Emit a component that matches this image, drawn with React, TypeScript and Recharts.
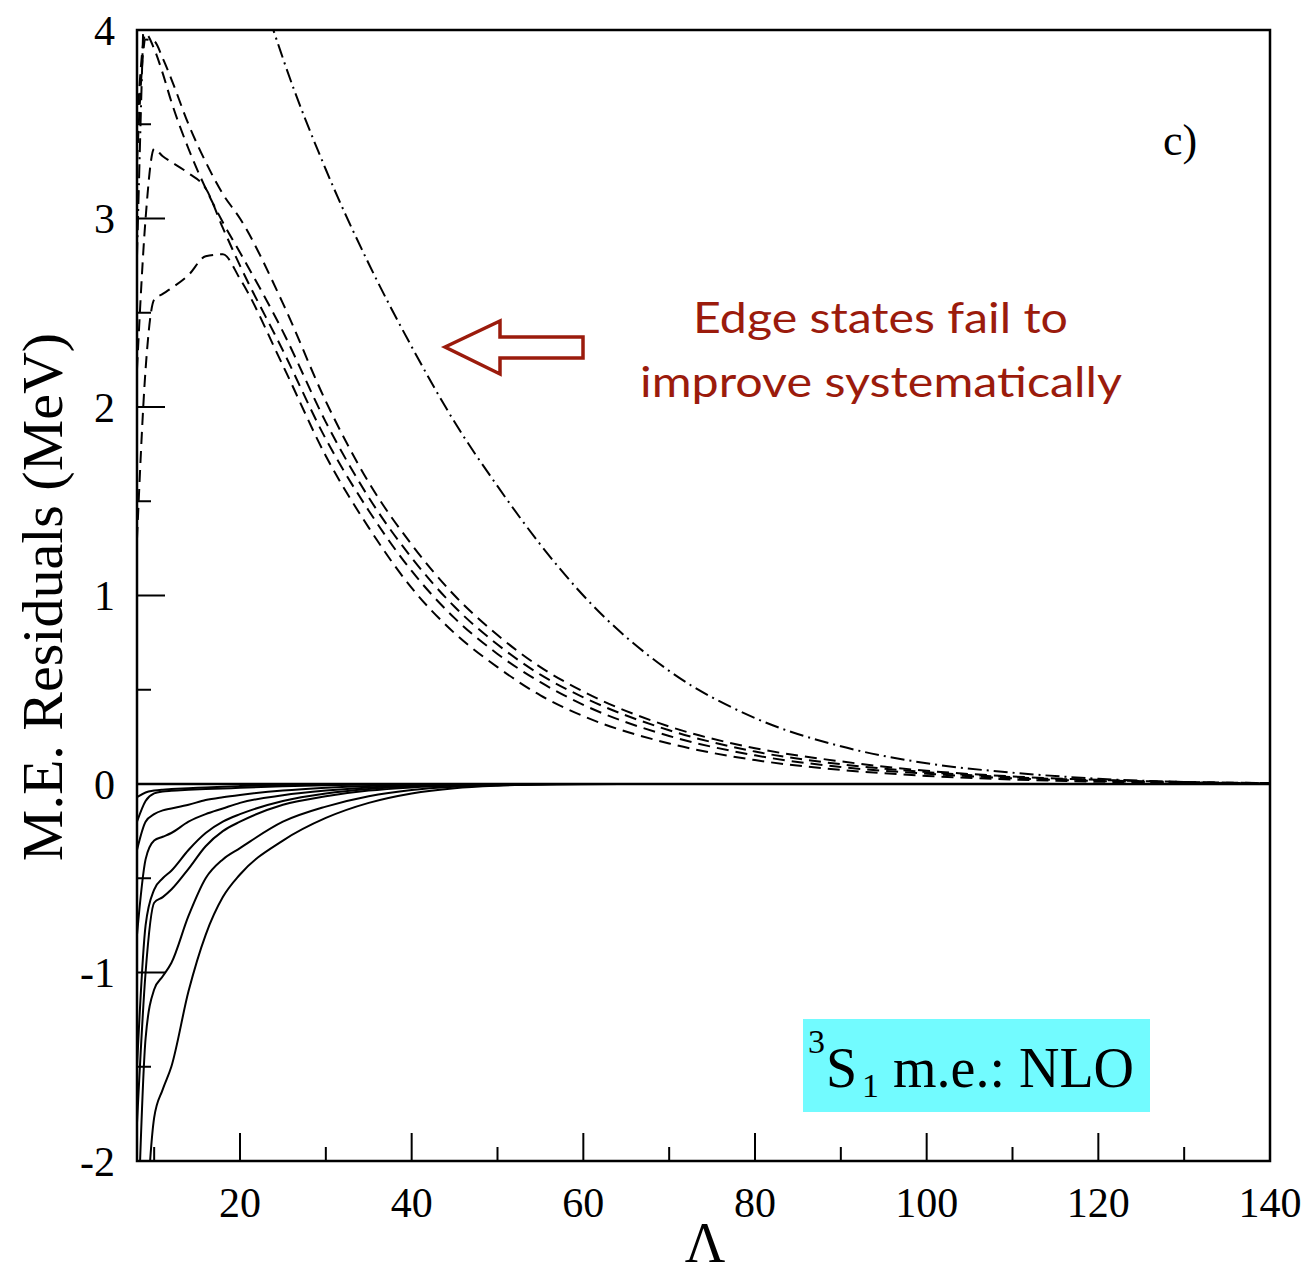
import { LineChart, Line, XAxis, YAxis, ReferenceLine, ReferenceArea } from "recharts";

const LAMBDA = [8, 9, 10, 11, 12, 14, 16, 18, 20, 25, 30, 35, 40, 45, 50, 55, 60, 70, 80, 90, 100, 110, 120, 130, 140];

// dashed residuals (edge states)
const DASH_1 = [3.5, 3.98, 3.9, 3.77, 3.62, 3.37, 3.16, 2.98, 2.82, 2.4, 1.92, 1.52, 1.2, 0.94, 0.74, 0.58, 0.46, 0.285, 0.172, 0.105, 0.063, 0.036, 0.02, 0.01, 0.005];
const DASH_2 = [3.3, 3.95, 3.94, 3.85, 3.74, 3.5, 3.3, 3.13, 3.0, 2.55, 2.03, 1.6, 1.27, 1.0, 0.79, 0.62, 0.49, 0.305, 0.19, 0.12, 0.07, 0.04, 0.022, 0.011, 0.005];
const DASH_3 = [2.2, 3.0, 3.37, 3.33, 3.3, 3.24, 3.16, 2.95, 2.75, 2.3, 1.83, 1.45, 1.13, 0.88, 0.69, 0.54, 0.42, 0.255, 0.152, 0.09, 0.055, 0.03, 0.016, 0.008, 0.004];
const DASH_4 = [1.3, 2.2, 2.57, 2.6, 2.63, 2.7, 2.8, 2.81, 2.68, 2.22, 1.74, 1.36, 1.04, 0.8, 0.62, 0.47, 0.36, 0.215, 0.127, 0.075, 0.043, 0.024, 0.012, 0.006, 0.003];
const DASH_DOT = [2.8, 4.4, 5.5, 5.9, 6.0, 5.8, 5.4, 5.0, 4.6, 3.85, 3.26, 2.76, 2.32, 1.92, 1.58, 1.27, 1.0, 0.6, 0.35, 0.2, 0.11, 0.06, 0.028, 0.01, 0.003];

// solid residuals
const SOLID_1 = [-0.07, -0.045, -0.035, -0.03, -0.027, -0.022, -0.018, -0.014, -0.011, -0.005, -0.002, -0.001, 0, 0, 0, 0, 0, 0, 0, 0, 0, 0, 0, 0, 0];
const SOLID_2 = [-0.2, -0.09, -0.05, -0.04, -0.036, -0.031, -0.027, -0.024, -0.02, -0.012, -0.006, -0.003, -0.001, 0, 0, 0, 0, 0, 0, 0, 0, 0, 0, 0, 0];
const SOLID_3 = [-0.35, -0.2, -0.16, -0.14, -0.13, -0.11, -0.085, -0.07, -0.058, -0.035, -0.02, -0.01, -0.005, -0.002, 0, 0, 0, 0, 0, 0, 0, 0, 0, 0, 0];
const SOLID_4 = [-0.8, -0.4, -0.3, -0.28, -0.26, -0.2, -0.16, -0.13, -0.1, -0.06, -0.035, -0.018, -0.009, -0.004, -0.001, 0, 0, 0, 0, 0, 0, 0, 0, 0, 0];
const SOLID_5 = [-1.5, -0.75, -0.56, -0.5, -0.46, -0.35, -0.26, -0.2, -0.16, -0.09, -0.05, -0.026, -0.013, -0.006, -0.002, 0, 0, 0, 0, 0, 0, 0, 0, 0, 0];
const SOLID_6 = [-1.8, -1.0, -0.63, -0.6, -0.56, -0.45, -0.33, -0.25, -0.2, -0.11, -0.065, -0.035, -0.018, -0.008, -0.003, -0.001, 0, 0, 0, 0, 0, 0, 0, 0, 0];
const SOLID_7 = [-2.5, -1.35, -1.09, -1.02, -0.95, -0.7, -0.5, -0.4, -0.34, -0.2, -0.12, -0.065, -0.032, -0.015, -0.006, -0.002, 0, 0, 0, 0, 0, 0, 0, 0, 0];
const SOLID_8 = [-3.5, -2.4, -1.77, -1.62, -1.5, -1.1, -0.8, -0.6, -0.48, -0.3, -0.18, -0.1, -0.05, -0.022, -0.009, -0.003, -0.001, 0, 0, 0, 0, 0, 0, 0, 0];

const X_TICKS = [10, 20, 30, 40, 50, 60, 70, 80, 90, 100, 110, 120, 130, 140];
const Y_TICKS = [-2, -1.5, -1, -0.5, 0, 0.5, 1, 1.5, 2, 2.5, 3, 3.5, 4];

const DASHED = { d1: DASH_1, d2: DASH_2, d3: DASH_3, d4: DASH_4 };
const SOLID = { s1: SOLID_1, s2: SOLID_2, s3: SOLID_3, s4: SOLID_4, s5: SOLID_5, s6: SOLID_6, s7: SOLID_7, s8: SOLID_8 };

const data = LAMBDA.map((lam, i) => {
  const row: Record<string, number> = { lam, dd: DASH_DOT[i] };
  Object.entries(DASHED).forEach(([k, arr]) => (row[k] = arr[i]));
  Object.entries(SOLID).forEach(([k, arr]) => (row[k] = arr[i]));
  return row;
});

const SERIF = "'Liberation Serif', 'Times New Roman', serif";
const RED = "#9B1B0C";

function XTick(props: any) {
  const { x, y, payload } = props;
  const major = payload.value % 20 === 0;
  return (
    <g>
      <line x1={x} x2={x} y1={y} y2={y - (major ? 28 : 14)} stroke="#000" strokeWidth={2} />
      {major && (
        <text x={x} y={y + 56} textAnchor="middle" fontFamily={SERIF} fontSize={42} fill="#000">
          {payload.value}
        </text>
      )}
    </g>
  );
}

function YTick(props: any) {
  const { x, y, payload } = props;
  const major = Number.isInteger(payload.value);
  return (
    <g>
      <line x1={x} x2={x + (major ? 28 : 14)} y1={y} y2={y} stroke="#000" strokeWidth={2} />
      {major && (
        <text x={x - 22} y={y} dy="0.35em" textAnchor="end" fontFamily={SERIF} fontSize={42} fill="#000">
          {payload.value}
        </text>
      )}
    </g>
  );
}

export default function App() {
  return (
    <div style={{ position: "absolute", left: 0, top: 0, width: 1307, height: 1276, background: "#fff" }}>
      <LineChart width={1307} height={1276} data={data} margin={{ top: 30, right: 37, left: 0, bottom: 55 }}>
        <XAxis
          dataKey="lam"
          type="number"
          domain={[8, 140]}
          ticks={X_TICKS}
          allowDataOverflow
          axisLine={false}
          tickLine={false}
          tickSize={0}
          tickMargin={0}
          height={60}
          tick={<XTick />}
          interval={0}
        />
        <YAxis
          type="number"
          domain={[-2, 4]}
          ticks={Y_TICKS}
          allowDataOverflow
          axisLine={false}
          tickLine={false}
          tickSize={0}
          tickMargin={0}
          width={137}
          tick={<YTick />}
          interval={0}
        />
        <ReferenceLine y={0} stroke="#000" strokeWidth={2.5} />
        {Object.keys(SOLID).map((k) => (
          <Line key={k} dataKey={k} type="monotone" stroke="#000" strokeWidth={2} dot={false} isAnimationActive={false} />
        ))}
        {Object.keys(DASHED).map((k) => (
          <Line
            key={k}
            dataKey={k}
            type="monotone"
            stroke="#000"
            strokeWidth={2}
            strokeDasharray="12 7"
            dot={false}
            isAnimationActive={false}
          />
        ))}
        <Line dataKey="dd" type="monotone" stroke="#000" strokeWidth={2} strokeDasharray="14 5 2 5" dot={false} isAnimationActive={false} />
        <ReferenceArea x1={8} x2={140} y1={-2} y2={4} fill="none" stroke="#000" strokeWidth={2.5} />
      </LineChart>
      <svg width={1307} height={1276} style={{ position: "absolute", left: 0, top: 0, pointerEvents: "none" }}>
        <text transform="translate(62,597) rotate(-90)" textAnchor="middle" fontFamily={SERIF} fontSize={58} fill="#000">
          M.E. Residuals (MeV)
        </text>
        <text x={705} y={1262} textAnchor="middle" fontFamily={SERIF} fontSize={56} fill="#000">
          Λ
        </text>
        <text x={1163} y={155} fontFamily={SERIF} fontSize={44} fill="#000">
          c)
        </text>
        <polygon
          points="445,347 500,321 500,337 583,337 583,358 500,358 500,374"
          fill="#fff"
          stroke={RED}
          strokeWidth={3.5}
        />
        <text x={693} y={333} textLength={375} lengthAdjust="spacingAndGlyphs" fontFamily="Lato, sans-serif" fontSize={43} fill={RED}>
          Edge states fail to
        </text>
        <text x={640} y={397} textLength={482} lengthAdjust="spacingAndGlyphs" fontFamily="Lato, sans-serif" fontSize={43} fill={RED}>
          improve systematically
        </text>
        <rect x={803} y={1019} width={347} height={93} fill="#72FBFF" />
        <text x={808} y={1053} fontFamily={SERIF} fontSize={34} fill="#000">3</text>
        <text x={826} y={1087} fontFamily={SERIF} fontSize={56} fill="#000">S</text>
        <text x={862} y={1097} fontFamily={SERIF} fontSize={34} fill="#000">1</text>
        <text x={893} y={1087} fontFamily={SERIF} fontSize={56} fill="#000">m.e.: NLO</text>
      </svg>
    </div>
  );
}
